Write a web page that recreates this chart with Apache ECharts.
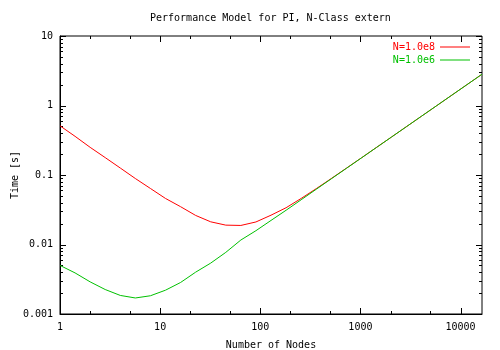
<!DOCTYPE html>
<html>
<head>
<meta charset="utf-8">
<script src="https://cdn.jsdelivr.net/npm/echarts@6/dist/echarts.min.js"></script>
<style>
  html, body { margin: 0; padding: 0; background: #fff; }
  #chart { width: 500px; height: 350px; background: #fff; }
</style>
</head>
<body>
<div id="chart"></div>
<script>
// Node counts (x) and modelled run times (y, seconds)
const nodeCounts = [1, 1.414, 2, 2.828, 4, 5.657, 8, 11.31, 16, 22.63, 32, 45.25, 64, 90.51,
  128, 181.0, 256, 362.0, 512, 724.1, 1024, 1448, 2048, 2896, 4096, 5793, 8192, 11585, 16384];
const timeN1e8 = [0.51, 0.36, 0.25, 0.178, 0.126, 0.089, 0.064, 0.046, 0.035, 0.0262, 0.0212,
  0.0190, 0.0188, 0.0211, 0.0264, 0.0338, 0.0460, 0.0636, 0.0890, 0.1252, 0.1765, 0.2494,
  0.3525, 0.4983, 0.7046, 0.9965, 1.409, 1.993, 2.818];
const timeN1e6 = [0.0050, 0.0039, 0.0029, 0.00225, 0.00185, 0.00170, 0.00183, 0.0022, 0.00284,
  0.0040, 0.0054, 0.0077, 0.0116, 0.0158, 0.0222, 0.0311, 0.0440, 0.0623, 0.0881, 0.1245,
  0.176, 0.249, 0.352, 0.498, 0.705, 0.996, 1.409, 1.992, 2.818];

const seriesNames = ['N=1.0e8', 'N=1.0e6'];
const seriesColors = ['#ff0000', '#00c000'];

// Axis ticks
const xMajorTicks = [1, 10, 100, 1000, 10000];
const xMinorFactors = [2, 5];
const yMajorTicks = [0.001, 0.01, 0.1, 1, 10];
const yMinorFactors = [2, 3, 4, 5, 6, 7, 8, 9];
const xRange = [1, 16384];
const yRange = [0.001, 10];

const MAJOR_LEN = 6;
const MINOR_LEN = 3;

function minorTicks(majors, factors, range) {
  const out = [];
  majors.forEach(m => factors.forEach(f => {
    const v = +(m * f).toPrecision(6);
    if (v > range[0] && v < range[1]) out.push(v);
  }));
  return out;
}
const xMinorTicks = minorTicks(xMajorTicks, xMinorFactors, xRange);
const yMinorTicks = minorTicks(yMajorTicks, yMinorFactors, yRange);

const FONT = '"DejaVu Sans Mono", "Liberation Mono", monospace';

const chart = echarts.init(document.getElementById('chart'), null, { renderer: 'canvas' });

// Labels only at whole decades
function decadeLabel(v) {
  const l = Math.log10(v);
  return Math.abs(l - Math.round(l)) < 1e-6 ? String(+v.toPrecision(6)) : '';
}

try {
  chart.setOption({
    animation: false,
    title: {
      text: 'Performance Model for PI, N-Class extern',
      left: 150,
      top: 13,
      padding: 0,
      textStyle: { fontFamily: FONT, fontSize: 10, fontWeight: 'normal', color: '#000' }
    },
    grid: { left: 60, right: 18, top: 36, bottom: 36, show: true, borderColor: '#000', borderWidth: 1,
      containLabel: false, outerBoundsMode: 'none' },
    legend: {
      orient: 'vertical',
      right: 25,
      top: 37,
      align: 'right',
      itemWidth: 30,
      itemHeight: 1,
      itemGap: 3,
      icon: 'rect',
      textStyle: { fontFamily: FONT, fontSize: 10 },
      data: seriesNames.map((n, i) => ({ name: n, textStyle: { color: seriesColors[i] } }))
    },
    xAxis: {
      type: 'log',
      logBase: 10,
      min: xRange[0],
      max: xRange[1],
      axisLine: { show: true, lineStyle: { color: '#000', width: 1 } },
      axisTick: { show: false },
      minorTick: { show: false },
      splitLine: { show: false },
      axisLabel: { color: '#000', fontFamily: FONT, fontSize: 10, margin: 8,
        showMaxLabel: false, formatter: decadeLabel },
      name: 'Number of Nodes', nameLocation: 'middle', nameGap: 26, nameMoveOverlap: false,
      nameTextStyle: { fontFamily: FONT, fontSize: 10, color: '#000' }
    },
    yAxis: {
      type: 'log',
      logBase: 10,
      min: yRange[0],
      max: yRange[1],
      axisLine: { show: true, lineStyle: { color: '#000', width: 1 } },
      axisTick: { show: false },
      minorTick: { show: false },
      splitLine: { show: false },
      axisLabel: { color: '#000', fontFamily: FONT, fontSize: 10, margin: 7, formatter: decadeLabel },
      name: 'Time [s]', nameLocation: 'middle', nameGap: 40, nameRotate: 90, nameMoveOverlap: false,
      nameTextStyle: { fontFamily: FONT, fontSize: 10, color: '#000' }
    },
    series: [timeN1e8, timeN1e6].map((vals, i) => ({
      name: seriesNames[i],
      type: 'line',
      showSymbol: false,
      symbol: 'none',
      lineStyle: { color: seriesColors[i], width: 1 },
      itemStyle: { color: seriesColors[i] },
      data: nodeCounts.map((x, k) => [x, vals[k]])
    }))
  });
} catch (e) {
  console.error(e);
}

// Inward tick marks on all four sides of the frame, placed through the axis scales.
function toPixel(pt) {
  try { return chart.convertToPixel({ gridIndex: 0 }, pt); } catch (e) { return null; }
}
function tickMarks() {
  const els = [];
  const seg = (x1, y1, x2, y2) => els.push({
    type: 'line',
    shape: { x1: x1, y1: y1, x2: x2, y2: y2 },
    style: { stroke: '#000', lineWidth: 1 }
  });
  const addX = (v, len) => {
    const b = toPixel([v, yRange[0]]), t = toPixel([v, yRange[1]]);
    if (!b || !t) return;
    const x = Math.round(b[0]) + 0.5;
    seg(x, b[1], x, b[1] - len);
    seg(x, t[1], x, t[1] + len);
  };
  const addY = (v, len) => {
    const l = toPixel([xRange[0], v]), r = toPixel([xRange[1], v]);
    if (!l || !r) return;
    const y = Math.round(l[1]) + 0.5;
    seg(l[0], y, l[0] + len, y);
    seg(r[0], y, r[0] - len, y);
  };
  xMajorTicks.forEach(v => addX(v, MAJOR_LEN));
  xMinorTicks.forEach(v => addX(v, MINOR_LEN));
  yMajorTicks.forEach(v => addY(v, MAJOR_LEN));
  yMinorTicks.forEach(v => addY(v, MINOR_LEN));
  return els;
}
try {
  chart.setOption({ graphic: { elements: tickMarks() } });
} catch (e) {
  console.error(e);
}
</script>
</body>
</html>
